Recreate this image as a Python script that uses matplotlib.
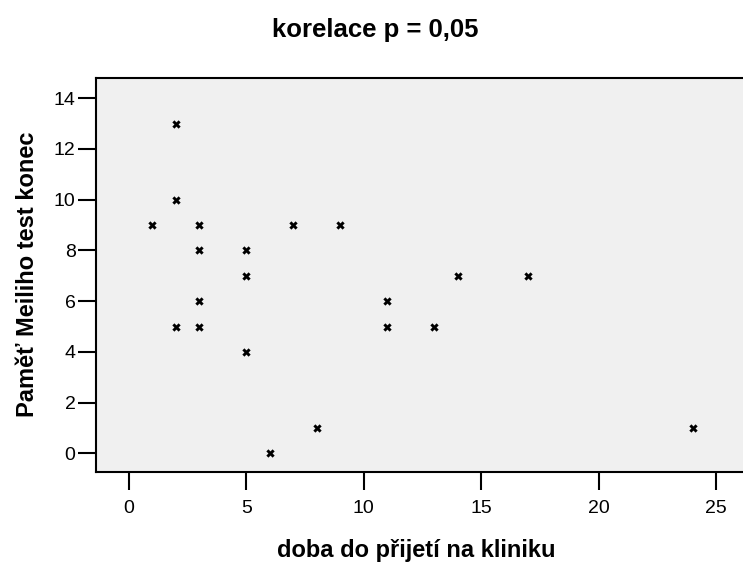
import matplotlib
matplotlib.use("Agg")
import matplotlib.pyplot as plt

plt.rcParams['font.family'] = ['Liberation Sans', 'DejaVu Sans']

doba = [1, 2, 2, 2, 3, 3, 3, 3, 5, 5, 5, 6, 7, 8, 9, 11, 11, 13, 14, 17, 24]
pamet = [9, 13, 10, 5, 9, 8, 6, 5, 8, 7, 4, 0, 9, 1, 9, 6, 5, 5, 7, 7, 1]
xticks = [0, 5, 10, 15, 20, 25]
yticks = [0, 2, 4, 6, 8, 10, 12, 14]

W, H = 743, 565
fig = plt.figure(figsize=(W / 100, H / 100), dpi=100)
left, right, top, bottom = 95.7, 743, 78, 472
ax = fig.add_axes([left / W, (H - bottom) / H, (right - left) / W, (bottom - top) / H])
ax.set_facecolor('#F0F0F0')

ax.scatter(doba, pamet, marker='X', s=36, color='black', linewidths=0)

x0, xscale = 129, 23.48
ax.set_xlim((left - x0) / xscale, (right - x0) / xscale)
y0, yscale = 453.3, 25.36
ax.set_ylim((y0 - bottom) / yscale, (y0 - top) / yscale)

ax.set_xticks(xticks)
ax.set_yticks(yticks)
ax.tick_params(direction='out', length=13, width=1.5, labelsize=14)
ax.tick_params(axis='x', pad=7)
ax.tick_params(axis='y', pad=1.5)
for s in ['left', 'bottom', 'top']:
    ax.spines[s].set_linewidth(1.5)
ax.spines['right'].set_visible(False)

fig.text(375 / W, 1 - 37 / H, 'korelace p = 0,05', ha='center', va='baseline',
         fontsize=18.5, fontweight='bold')
fig.text(416 / W, 1 - 550 / H, 'doba do přijetí na kliniku', ha='center', va='center',
         fontsize=17, fontweight='bold')
fig.text(28 / W, 1 - 274 / H, 'Paměť Meiliho test konec', ha='center', va='center',
         rotation=90, fontsize=17, fontweight='bold')

fig.savefig('out.png', dpi=100)
